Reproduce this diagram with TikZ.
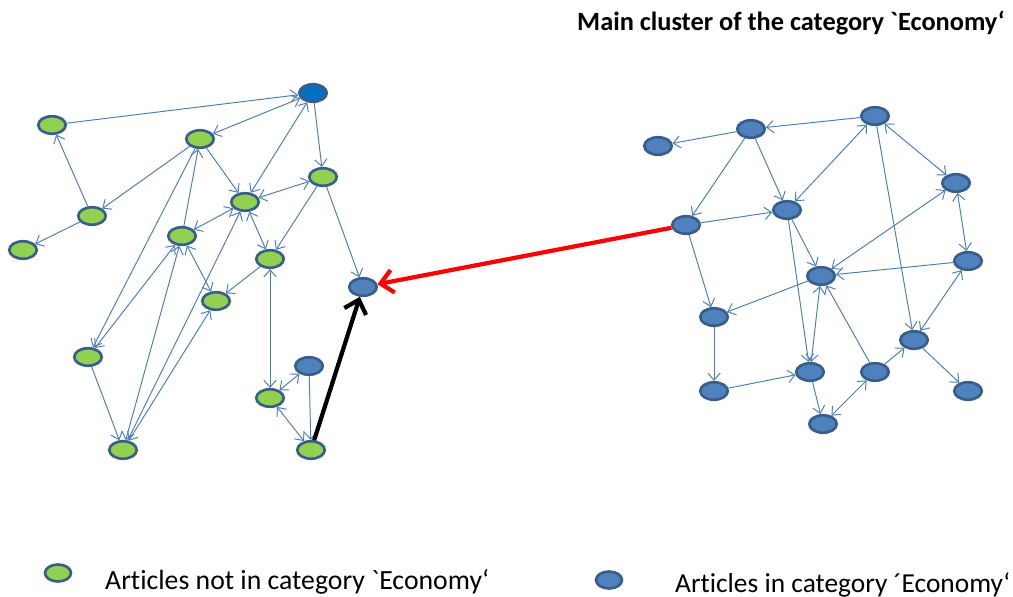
\documentclass[tikz,border=0pt]{standalone}
\usepackage{fontspec}
\newfontfamily\calibri{Carlito}[Ligatures={TeXOff,CommonOff}]
\usetikzlibrary{arrows.meta,shapes.geometric}
\definecolor{artgreen}{HTML}{92D050}
\definecolor{artblue}{HTML}{4F81BD}
\definecolor{hubblue}{HTML}{0070C0}
\definecolor{rimblue}{HTML}{385D8A}
\definecolor{linkblue}{HTML}{4A7EBB}

\begin{document}
\begin{tikzpicture}[x=0.02cm,y=-0.02cm,
  art/.style={ellipse,draw=rimblue,line width=1.5pt,minimum width=0.55cm,minimum height=0.35cm,inner sep=0pt},
  other/.style={art,fill=artgreen},
  econ/.style={art,fill=artblue},
  link/.style={draw=linkblue,line width=0.55pt,-{Straight Barb[length=4pt,width=7pt]}},
  both/.style={link,{Straight Barb[length=4pt,width=7pt]}-{Straight Barb[length=4pt,width=7pt]}},
  jump/.style={line width=2.4pt,-{Straight Barb[length=7pt,width=13pt,line width=2.4pt]}}]
\useasboundingbox (0,0) rectangle (1013,597);

\node[art,fill=hubblue] (hub) at (313,93) {};
\node[other] (n1) at (52,125) {};
\node[other] (n2) at (200,139) {};
\node[other] (n3) at (323,177) {};
\node[other] (n4) at (245,202) {};
\node[other] (n5) at (92,216) {};
\node[other] (n6) at (23,250) {};
\node[other] (n7) at (182,236) {};
\node[other] (n8) at (270,259) {};
\node[other] (n9) at (216,301) {};
\node[other] (n10) at (88,357) {};
\node[other] (n11) at (270,398) {};
\node[other] (n12) at (123,450) {};
\node[other] (n13) at (311,450) {};
\node[econ] (m1) at (309,366) {};
\node[econ] (new) at (363,287) {};

\node[econ] (e1) at (658,146) {};
\node[econ] (e2) at (751,129) {};
\node[econ] (e3) at (875,116) {};
\node[econ] (e4) at (956,183) {};
\node[econ] (e5) at (686,225) {};
\node[econ] (e6) at (787,210) {};
\node[econ] (e7) at (968,261) {};
\node[econ] (e8) at (821,276) {};
\node[econ] (e9) at (714,317) {};
\node[econ] (e10) at (914,340) {};
\node[econ] (e11) at (810,372) {};
\node[econ] (e12) at (875,372) {};
\node[econ] (e13) at (714,391) {};
\node[econ] (e14) at (968,391) {};
\node[econ] (e15) at (823,424) {};

\draw[link] (n1) -- (hub);
\draw[both] (hub) -- (n2);
\draw[link] (hub) -- (n3);
\draw[both] (hub) -- (n4);
\draw[link] (n5) -- (n1);
\draw[link] (n2) -- (n5);
\draw[link] (n5) -- (n6);
\draw[link] (n2) -- (n4);
\draw[both] (n4) -- (n3);
\draw[link] (n3) -- (n8);
\draw[link] (n3) -- (new);
\draw[both] (n4) -- (n7);
\draw[both] (n4) -- (n8);
\draw[link] (n8) -- (n9);
\draw[both] (n11) -- (n8);
\draw[both] (n7) -- (n9);
\draw[link] (n7) -- (n2);
\draw[link] (n2) -- (n10);
\draw[both] (n10) -- (n7);
\draw[link] (n10) -- (n12);
\draw[both] (n7) -- (n12);
\draw[both] (n9) -- (n12);
\draw[link] (n12) -- (n4);
\draw[both] (m1) -- (n11);
\draw[both] (n11) -- (n13);
\draw[link] (m1) -- (n13);

\draw[link] (e3) -- (e2);
\draw[link] (e2) -- (e1);
\draw[link] (e2) -- (e5);
\draw[link] (e2) -- (e6);
\draw[both] (e3) -- (e6);
\draw[both] (e3) -- (e4);
\draw[link] (e3) -- (e10);
\draw[link] (e5) -- (e6);
\draw[link] (e5) -- (e9);
\draw[link] (e6) -- (e8);
\draw[link] (e6) -- (e11);
\draw[both] (e4) -- (e8);
\draw[both] (e4) -- (e7);
\draw[link] (e7) -- (e8);
\draw[link] (e8) -- (e9);
\draw[both] (e8) -- (e11);
\draw[link] (e12) -- (e8);
\draw[link] (e12) -- (e10);
\draw[both] (e10) -- (e7);
\draw[link] (e10) -- (e14);
\draw[link] (e9) -- (e13);
\draw[link] (e13) -- (e11);
\draw[link] (e11) -- (e15);
\draw[both] (e15) -- (e12);

\draw[jump,red] (e5) -- (new);
\draw[jump,black] (n13) -- (new);

\node[anchor=base west,font=\calibri\bfseries\fontsize{15}{18}\selectfont] (title) at (571,31) {Main cluster of the category `Economy‘};

\node[other,minimum width=0.52cm,minimum height=0.34cm] (keyother) at (58,573) {};
\node[anchor=base west,font=\calibri\fontsize{15.8}{19}\selectfont] (keyothertext) at (99,589) {Articles not in category `Economy‘};
\node[econ,minimum width=0.52cm,minimum height=0.34cm] (keyecon) at (609,580) {};
\node[anchor=base west,font=\calibri\fontsize{15.6}{19}\selectfont] (keyecontext) at (669,592) {Articles in category ´Economy‘};
\end{tikzpicture}
\end{document}
